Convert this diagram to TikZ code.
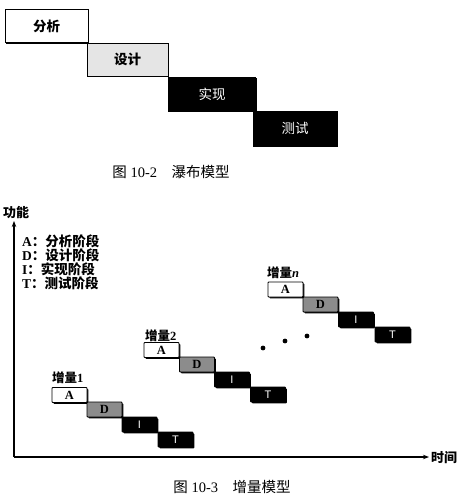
\documentclass[tikz,border=0pt]{standalone}
\usepackage{fontspec}
\setmainfont{Liberation Serif}
\setsansfont{Liberation Sans}
\newfontfamily\cjk{Noto Sans CJK SC}
\usetikzlibrary{arrows.meta,shadows}
\begin{document}
\begin{tikzpicture}[x=1pt,y=-1pt,
  shd/.style={drop shadow={shadow xshift=1.3pt,shadow yshift=-1.3pt,fill=black,opacity=1}},
  wbox/.style={draw=black,line width=0.8pt,minimum width=83pt,minimum height=33pt,inner sep=0pt,shd,font=\cjk\bfseries\fontsize{13.5}{15}\selectfont},
  sbox/.style={draw=black,line width=0.8pt,minimum width=35pt,minimum height=15pt,inner sep=0pt,shd,rounded corners=0.8pt},
  awhite/.style={sbox,fill=white,font=\bfseries\fontsize{12.5}{13}\selectfont},
  dgray/.style={sbox,fill=black!45,font=\bfseries\fontsize{12.5}{13}\selectfont},
  blk/.style={sbox,fill=black,text=white,font=\sffamily\fontsize{11}{12}\selectfont},
  inclabel/.style={anchor=south west,inner sep=0pt,font=\cjk\bfseries\fontsize{12.5}{14}\selectfont},
  legend/.style={anchor=west,inner sep=0pt,font=\bfseries\fontsize{13.5}{15}\selectfont},
  caption/.style={inner sep=0pt,font=\fontsize{14.5}{16}\selectfont},
  axis/.style={line width=1.1pt,-{Stealth[length=6pt,width=4.5pt]}},
  dotmark/.style={fill=black,circle,inner sep=0pt,minimum size=4.8pt}
]
\path[use as bounding box,fill=white] (0,0) rectangle (470,498);

% ---- waterfall model ----
\node[wbox,fill=white] (wA) at (46.5,26) {分析};
\node[wbox,fill=black!10,minimum width=81pt] (wD) at (127.5,59.5) {设计};
\node[wbox,fill=black,text=white,minimum width=87pt,minimum height=34pt,font=\cjk\fontsize{13.5}{15}\selectfont] (wI) at (212,94) {实现};
\node[wbox,fill=black,text=white,minimum width=84pt,minimum height=35pt,font=\cjk\fontsize{13.5}{15}\selectfont] (wT) at (295,128.5) {测试};
\node[caption] (cap1) at (171,172) {{\cjk 图} 10-2\hspace{1em}{\cjk 瀑布模型}};

% ---- incremental model ----
\coordinate (O) at (14,457);
\coordinate (ytop) at (14,221);
\coordinate (xend) at (429,457);
\draw[axis] (O) -- (ytop);
\draw[axis] (O) -- (xend);
\node[inner sep=0pt,font=\cjk\bfseries\fontsize{13}{15}\selectfont] (ylab) at (16,213) {功能};
\node[inner sep=0pt,anchor=west,font=\cjk\bfseries\fontsize{13}{15}\selectfont] (xlab) at (431,458) {时间};

\node[legend] (lA) at (22,241) {A{\cjk\bfseries ：分析阶段}};
\node[legend] (lD) at (22,255) {D{\cjk\bfseries ：设计阶段}};
\node[legend] (lI) at (22,269) {I{\cjk\bfseries ：实现阶段}};
\node[legend] (lT) at (22,283) {T{\cjk\bfseries ：测试阶段}};

% increment 1
\node[inclabel] (n1) at (52,384) {增量{\rmfamily 1}};
\node[awhite] (a1) at (69.5,395) {A};
\node[dgray]  (d1) at (104.5,409.5) {D};
\node[blk]    (i1) at (139.5,424.5) {I};
\node[blk]    (t1) at (175.5,439.5) {T};

% increment 2
\node[inclabel] (n2) at (145,342) {增量{\rmfamily 2}};
\node[awhite] (a2) at (161.5,350) {A};
\node[dgray]  (d2) at (197,364.5) {D};
\node[blk]    (i2) at (232,379.5) {I};
\node[blk]    (t2) at (268,394.5) {T};

% increment n
\node[inclabel] (nn) at (267,279) {增量{\rmfamily\itshape n}};
\node[awhite] (an) at (285.5,289.5) {A};
\node[dgray]  (dn) at (320.5,304.5) {D};
\node[blk]    (in) at (356,319.5) {I};
\node[blk]    (tn) at (392.5,334.5) {T};

\node[dotmark] (p1) at (263,348) {};
\node[dotmark] (p2) at (285,341) {};
\node[dotmark] (p3) at (307,336) {};

\node[caption] (cap2) at (232,487) {{\cjk 图} 10-3\hspace{1em}{\cjk 增量模型}};
\end{tikzpicture}
\end{document}
